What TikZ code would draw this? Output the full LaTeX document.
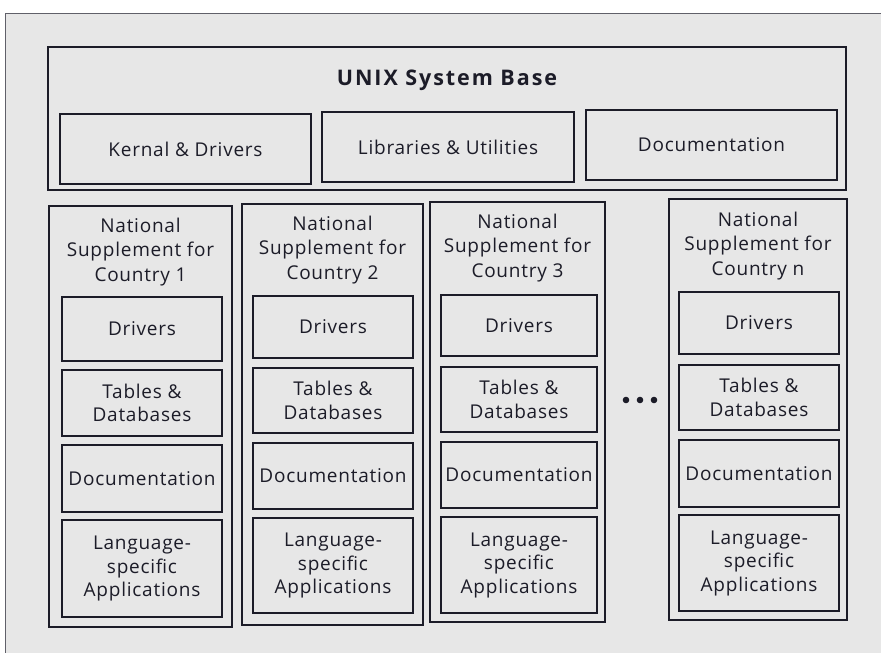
\documentclass[tikz,border=0pt]{standalone}
\usepackage{fontspec}
\setmainfont{Open Sans}[LetterSpace=4]
\newfontfamily\titlefont{Open Sans}[LetterSpace=9]
\definecolor{bg}{HTML}{E7E7E7}
\definecolor{ink}{HTML}{1C1C28}
\begin{document}
\begin{tikzpicture}[x=1pt,y=-1pt,
  box/.style={draw=ink, line width=1.5pt, rectangle, inner sep=0pt, outer sep=0pt, align=center, text=ink, font=\fontsize{19}{23.5}\selectfont},
  colbox/.style={draw=ink, line width=2.2pt, rectangle, inner sep=0pt, outer sep=0pt},
  lbl/.style={text=ink, align=center, inner sep=0pt, font=\fontsize{19}{24.5}\selectfont}]
\useasboundingbox (0,0) rectangle (881,653);
\fill[white] (0,0) rectangle (881,653);
\fill[bg] (5,13) rectangle (881,653);
\draw[ink!70, line width=1pt] (5,653) -- (5,13) -- (881,13);
% top box
\node[colbox, minimum width=798pt, minimum height=143pt] (base) at (447,118.5) {};
\node[text=ink, font=\titlefont\fontsize{21.5}{24}\selectfont\bfseries] (title) at (447,80) {UNIX System Base};
\node[box, minimum width=251pt, minimum height=70pt] (kd) at (185.5,149) {Kernal \& Drivers};
\node[box, minimum width=252pt, minimum height=70pt] (lu) at (448,147) {Libraries \& Utilities};
\node[box, minimum width=251pt, minimum height=70pt] (doc) at (711.5,145) {Documentation};
% columns: name / cx / cy / w / h / inner cx / inner w / header y / label / drv y1,y2 / tab / doc / lang
\foreach \n/\cx/\cy/\w/\h/\ix/\iw/\hy/\lab/\da/\db/\ta/\tb/\oa/\ob/\la/\lb in {
  1/140.5/416.5/183/421/142/160/252/1/297/361/370/436/445/512/520/617,
  2/332.5/414.5/181/421/333/160/250/2/296/358/368/433/443/509/518/613,
  3/517.5/412/175/420/519/156/248/3/295/356/367/432/442/508/517/613,
  n/758/409.5/178/421/759/160/246/n/292/354/365/430/440/507/515/611}{
  \node[colbox, minimum width=\w pt, minimum height=\h pt] (col\n) at (\cx,\cy) {};
  \node[lbl] (hd\n) at (\cx,\hy) {National\\Supplement for\\Country \lab};
  \node[box, minimum width=\iw pt, minimum height={\db-\da}] (drv\n) at (\ix,{(\da+\db)/2}) {Drivers};
  \node[box, minimum width=\iw pt, minimum height={\tb-\ta}] (tab\n) at (\ix,{(\ta+\tb)/2}) {Tables \&\\Databases};
  \node[box, minimum width=\iw pt, minimum height={\ob-\oa}] (doc\n) at (\ix,{(\oa+\ob)/2}) {Documentation};
  \node[box, minimum width=\iw pt, minimum height={\lb-\la}] (lang\n) at (\ix,{(\la+\lb)/2}) {Language-\\specific\\Applications};
}
\foreach \i/\x in {1/626,2/640,3/654}{
  \fill[ink] (\x,400) circle (3.3pt) coordinate (dot\i);
}
\end{tikzpicture}
\end{document}
